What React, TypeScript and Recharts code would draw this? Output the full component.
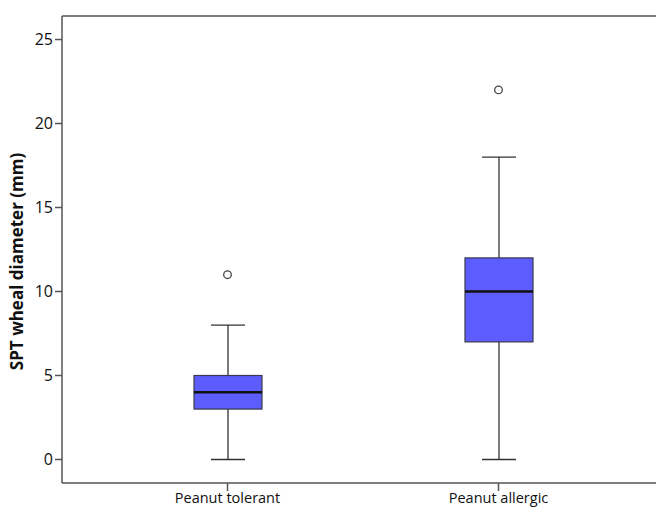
import React from "react";
import {
  ComposedChart,
  Bar,
  Scatter,
  XAxis,
  YAxis,
  ReferenceLine,
} from "recharts";

const groups = ["Peanut tolerant", "Peanut allergic"];
const mins = [0, 0];
const q1s = [3, 7];
const medians = [4, 10];
const q3s = [5, 12];
const maxs = [8, 18];
const outliers = [11, 22];
const yTicks = [0, 5, 10, 15, 20, 25];

const Y_MIN = -1.4;
const Y_MAX = 26.4;
const FONT = "'Open Sans', sans-serif";

const data = groups.map((name, i) => ({
  name,
  min: mins[i],
  q1: q1s[i],
  median: medians[i],
  q3: q3s[i],
  max: maxs[i],
  box: q3s[i] - q1s[i],
  outlier: outliers[i],
}));

function BoxShape(props: any) {
  const { x, y, width, height } = props;
  const d = props.payload ?? props;
  const ppu = height / (d.q3 - d.q1);
  const cx = x + width / 2;
  const top = y - (d.max - d.q3) * ppu;
  const bottom = y + height + (d.q1 - d.min) * ppu;
  const med = y + (d.q3 - d.median) * ppu;
  const cap = width / 4;
  return (
    <g>
      <line x1={cx} x2={cx} y1={top} y2={y} stroke="#333" strokeWidth={1.3} />
      <line x1={cx} x2={cx} y1={y + height} y2={bottom} stroke="#333" strokeWidth={1.3} />
      <line x1={cx - cap} x2={cx + cap} y1={top} y2={top} stroke="#333" strokeWidth={1.3} />
      <line x1={cx - cap} x2={cx + cap} y1={bottom} y2={bottom} stroke="#333" strokeWidth={1.3} />
      <rect x={x} y={y} width={width} height={height} fill="#5c5cff" stroke="#3a3a4a" strokeWidth={1.2} />
      <line x1={x} x2={x + width} y1={med} y2={med} stroke="#111" strokeWidth={2.5} />
    </g>
  );
}

function OutlierShape(props: any) {
  const { cx, cy } = props;
  if (cx == null || cy == null) return null;
  return <circle cx={cx} cy={cy} r={3.8} fill="#fff" stroke="#444" strokeWidth={1.3} />;
}

export default function App() {
  return (
    <div style={{ position: "absolute", left: 0, top: 0, width: 656, height: 512 }}>
      <ComposedChart
        width={656}
        height={512}
        data={data}
        margin={{ top: 16, right: 0, bottom: 0, left: 0 }}
        barSize={68}
      >
        <XAxis
          dataKey="name"
          height={29}
          padding={{ left: 30, right: 22 }}
          axisLine={{ stroke: "#555", strokeWidth: 1.5 }}
          tickLine={{ stroke: "#555", strokeWidth: 1.5 }}
          tickSize={8}
          tick={{ fontSize: 14.5, fill: "#111", fontFamily: FONT }}
          interval={0}
        />
        <YAxis
          type="number"
          domain={[Y_MIN, Y_MAX]}
          ticks={yTicks}
          width={62}
          tickSize={7}
          axisLine={{ stroke: "#555", strokeWidth: 1.5 }}
          tickLine={{ stroke: "#555", strokeWidth: 1.5 }}
          tick={{ fontSize: 16, fill: "#111", fontFamily: FONT }}
          allowDataOverflow
          label={{
            value: "SPT wheal diameter (mm)",
            angle: -90,
            position: "insideLeft",
            dx: 12,
            dy: 12,
            style: {
              textAnchor: "middle",
              fontSize: 17,
              fontWeight: 700,
              fill: "#111",
              fontFamily: FONT,
            },
          }}
        />
        <ReferenceLine y={Y_MAX} stroke="#555" strokeWidth={1.5} />
        <Bar dataKey="q1" stackId="box" fill="transparent" isAnimationActive={false} />
        <Bar dataKey="box" stackId="box" shape={<BoxShape />} isAnimationActive={false} />
        <Scatter dataKey="outlier" shape={<OutlierShape />} isAnimationActive={false} />
      </ComposedChart>
    </div>
  );
}
